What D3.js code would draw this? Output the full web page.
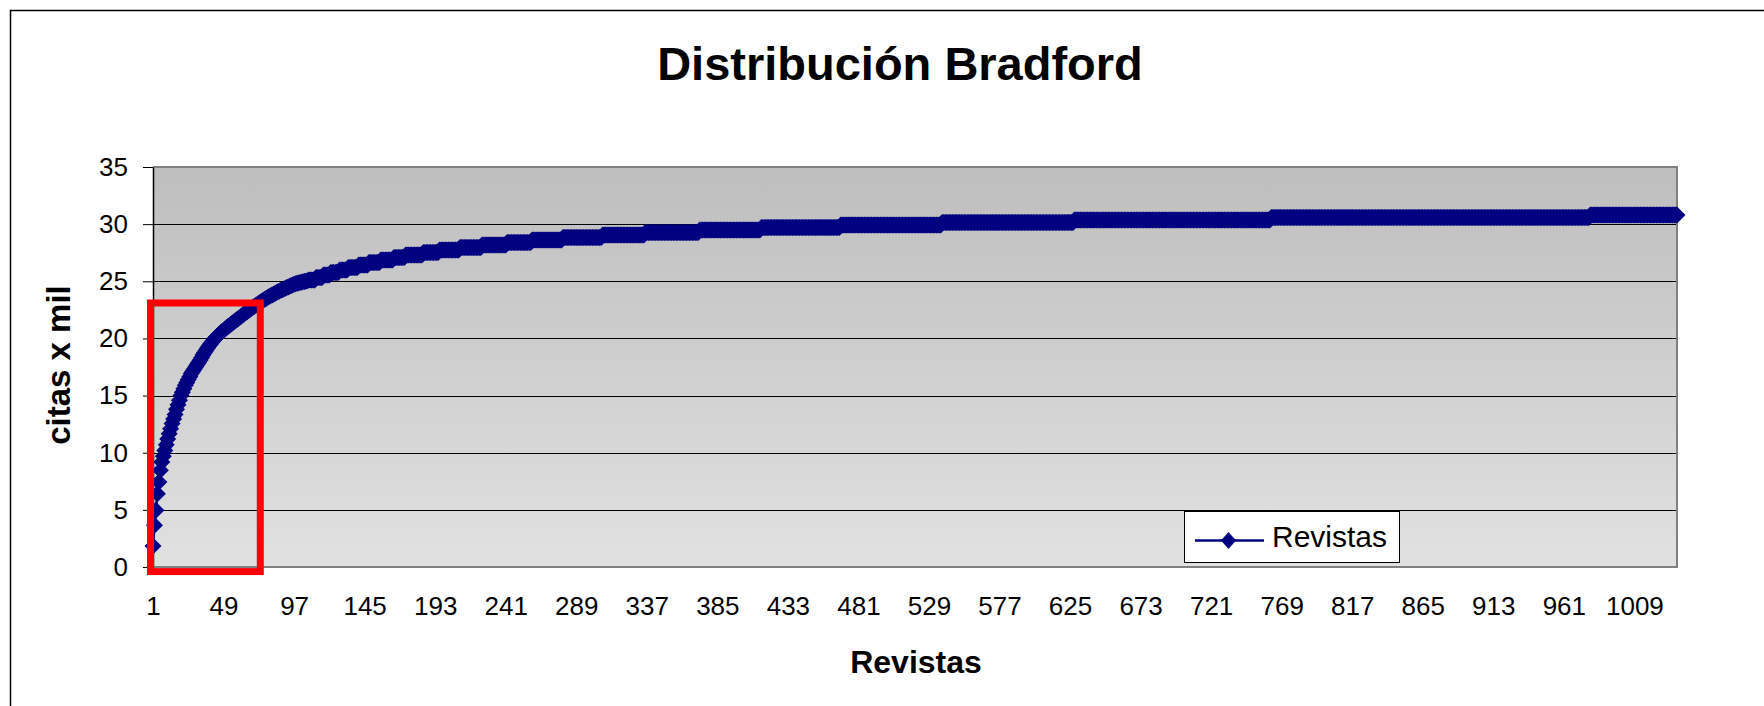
<!DOCTYPE html>
<html>
<head>
<meta charset="utf-8" />
<script src="https://cdn.jsdelivr.net/npm/d3@7"></script>
<style>
  body { margin: 0; background: #fff; }
  svg { display: block; }
  text { font-family: "Liberation Sans", Arial, sans-serif; }
</style>
</head>
<body>
<div id="chart"></div>
<script>
// Textos
var titulo = "Distribución Bradford";
var tituloX = "Revistas";
var tituloY = "citas x mil";
var nombreSerie = "Revistas";

// Numero de revistas (categorias del eje X)
var totalRevistas = 1038;

// Citas acumuladas (miles), revistas 1..106
var citasIniciales = [
  1.84, 3.65, 4.96, 6.42, 7.44, 8.46, 9.19, 9.70, 10.20, 10.70,
  11.20, 11.65, 12.10, 12.55, 12.95, 13.35, 13.80, 14.20, 14.60, 15.00,
  15.30, 15.60, 15.90, 16.15, 16.40, 16.65, 16.90, 17.10, 17.30, 17.50,
  17.70, 17.90, 18.10, 18.30, 18.55, 18.75, 18.95, 19.15, 19.33, 19.50,
  19.66, 19.82, 19.97, 20.11, 20.24, 20.37, 20.49, 20.61, 20.72, 20.83,
  20.94, 21.04, 21.14, 21.24, 21.34, 21.44, 21.54, 21.64, 21.74, 21.84,
  21.94, 22.04, 22.14, 22.24, 22.34, 22.44, 22.54, 22.63, 22.72, 22.81,
  22.90, 22.99, 23.08, 23.17, 23.26, 23.34, 23.42, 23.50, 23.58, 23.66,
  23.73, 23.80, 23.87, 23.94, 24.01, 24.08, 24.15, 24.21, 24.27, 24.33,
  24.39, 24.45, 24.51, 24.57, 24.63, 24.68, 24.73, 24.78, 24.82, 24.86,
  24.89, 24.92, 24.95, 24.98, 25.01, 25.04
];

// Resto de la curva: tramos planos (primera revista del tramo y citas)
var tramoDesde = [107, 112, 117, 122, 128, 134, 141, 148, 156, 165,
                  173, 185, 196, 210, 225, 242, 259, 280, 307, 336,
                  373, 415, 469, 538, 628, 762, 979];
var tramoCitas = [25.11, 25.33, 25.55, 25.77, 25.98, 26.20, 26.42, 26.64, 26.86, 27.08,
                  27.30, 27.52, 27.73, 27.95, 28.17, 28.39, 28.61, 28.83, 29.05, 29.27,
                  29.48, 29.70, 29.92, 30.14, 30.36, 30.58, 30.80];

var etiquetasX = [1, 49, 97, 145, 193, 241, 289, 337, 385, 433, 481, 529,
                  577, 625, 673, 721, 769, 817, 865, 913, 961, 1009];
var ticksY = [0, 5, 10, 15, 20, 25, 30, 35];

// Recuadro rojo (anotacion) en unidades de revista / citas
var recuadroRevistas = [-0.7, 74];
var recuadroCitas = [-0.4, 23.1];

// Serie completa
var datos = [];
for (var i = 1; i <= totalRevistas; i++) {
  var v;
  if (i <= citasIniciales.length) {
    v = citasIniciales[i - 1];
  } else {
    var k = d3.bisectRight(tramoDesde, i) - 1;
    v = tramoCitas[Math.max(k, 0)];
  }
  datos.push({ revista: i, citas: v });
}

var width = 1764, height = 706;
var plot = { left: 153, right: 1677, top: 167, bottom: 567 };
var azul = "#000080";

var svg = d3.select("#chart").append("svg")
  .attr("width", width)
  .attr("height", height);

// Borde exterior del area del grafico
svg.append("rect")
  .attr("x", 10.5).attr("y", 10.5)
  .attr("width", 1800).attr("height", 800)
  .attr("fill", "#fff")
  .attr("stroke", "#000")
  .attr("stroke-width", 1.5);

var x = d3.scaleLinear().domain([1, totalRevistas]).range([plot.left, plot.right]);
var y = d3.scaleLinear().domain([0, 35]).range([plot.bottom, plot.top]);

// Fondo degradado del area de trazado
var defs = svg.append("defs");
var grad = defs.append("linearGradient")
  .attr("id", "fondo")
  .attr("x1", 0).attr("y1", 0).attr("x2", 0).attr("y2", 1);
grad.append("stop").attr("offset", "0%").attr("stop-color", "#bebebe");
grad.append("stop").attr("offset", "100%").attr("stop-color", "#e1e1e1");

svg.append("rect")
  .attr("x", plot.left).attr("y", plot.top)
  .attr("width", plot.right - plot.left)
  .attr("height", plot.bottom - plot.top)
  .attr("fill", "url(#fondo)");

// Lineas de division
svg.append("g")
  .selectAll("line")
  .data(ticksY.filter(function (d) { return d > 0 && d < 35; }))
  .enter()
  .append("line")
  .attr("x1", plot.left).attr("x2", plot.right)
  .attr("y1", function (d) { return Math.round(y(d)) + 0.5; })
  .attr("y2", function (d) { return Math.round(y(d)) + 0.5; })
  .attr("stroke", "#000")
  .attr("stroke-width", 1);

// Borde gris del area de trazado
svg.append("path")
  .attr("d", "M" + plot.left + "," + plot.top + "H" + plot.right + "V" + plot.bottom + "H" + plot.left)
  .attr("fill", "none")
  .attr("stroke", "#808080")
  .attr("stroke-width", 2);

// Eje Y
var ejeY = svg.append("g")
  .attr("transform", "translate(" + plot.left + ",0)")
  .call(d3.axisLeft(y).tickValues(ticksY).tickSize(10).tickPadding(15).tickSizeOuter(0));
ejeY.select(".domain").attr("stroke", "#000").attr("stroke-width", 1.5);
ejeY.selectAll("text").attr("font-size", 26).attr("fill", "#000")
  .style("font-family", "'Liberation Sans', Arial, sans-serif");

// Eje X (solo etiquetas)
var ejeX = svg.append("g")
  .attr("transform", "translate(0," + plot.bottom + ")")
  .call(d3.axisBottom(x).tickValues(etiquetasX).tickFormat(d3.format("d"))
    .tickSize(0).tickPadding(29.5).tickSizeOuter(0));
ejeX.select(".domain").remove();
ejeX.selectAll("text").attr("font-size", 26).attr("fill", "#000")
  .style("font-family", "'Liberation Sans', Arial, sans-serif");

// Serie
var linea = d3.line()
  .x(function (d) { return x(d.revista); })
  .y(function (d) { return y(d.citas); });

svg.append("path")
  .datum(datos)
  .attr("d", linea)
  .attr("fill", "none")
  .attr("stroke", azul)
  .attr("stroke-width", 2.5);

var rombo = "M0,-8.5L8.5,0L0,8.5L-8.5,0Z";
svg.append("g")
  .selectAll("path")
  .data(datos)
  .enter()
  .append("path")
  .attr("d", rombo)
  .attr("transform", function (d) { return "translate(" + x(d.revista) + "," + y(d.citas) + ")"; })
  .attr("fill", azul);

// Recuadro rojo
svg.append("rect")
  .attr("x", x(recuadroRevistas[0]))
  .attr("y", y(recuadroCitas[1]))
  .attr("width", x(recuadroRevistas[1]) - x(recuadroRevistas[0]))
  .attr("height", y(recuadroCitas[0]) - y(recuadroCitas[1]))
  .attr("fill", "none")
  .attr("stroke", "#ff0000")
  .attr("stroke-width", 7);

// Leyenda
var ley = svg.append("g").attr("transform", "translate(1184,511)");
ley.append("rect")
  .attr("x", 0.5).attr("y", 0.5)
  .attr("width", 215).attr("height", 51)
  .attr("fill", "#fff")
  .attr("stroke", "#000")
  .attr("stroke-width", 1);
ley.append("line")
  .attr("x1", 11).attr("x2", 80)
  .attr("y1", 29.5).attr("y2", 29.5)
  .attr("stroke", azul)
  .attr("stroke-width", 2.5);
ley.append("path")
  .attr("d", "M0,-8.5L7.5,0L0,8.5L-7.5,0Z")
  .attr("transform", "translate(44.5,29.5)")
  .attr("fill", azul);
ley.append("text")
  .attr("x", 88).attr("y", 35.7)
  .attr("font-size", 30)
  .text(nombreSerie);

// Titulos
svg.append("text")
  .attr("x", 900).attr("y", 80)
  .attr("text-anchor", "middle")
  .attr("font-size", 47)
  .attr("font-weight", "bold")
  .text(titulo);

svg.append("text")
  .attr("x", 916).attr("y", 673)
  .attr("text-anchor", "middle")
  .attr("font-size", 32)
  .attr("font-weight", "bold")
  .text(tituloX);

svg.append("text")
  .attr("transform", "translate(70,365) rotate(-90)")
  .attr("text-anchor", "middle")
  .attr("font-size", 33)
  .attr("font-weight", "bold")
  .text(tituloY);
</script>
</body>
</html>
